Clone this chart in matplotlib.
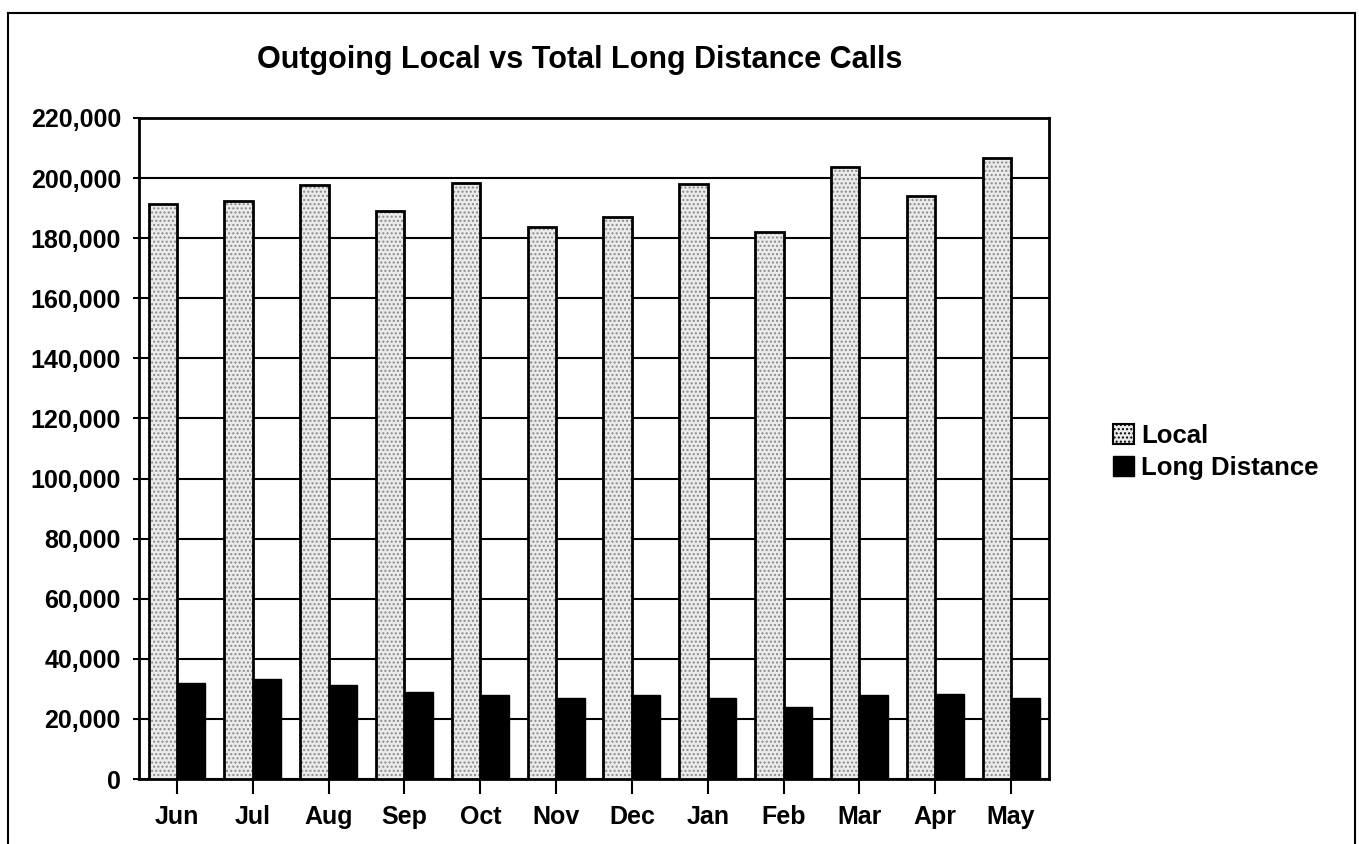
import matplotlib
matplotlib.use("Agg")
import matplotlib.pyplot as plt
from matplotlib.patches import Patch
from matplotlib.lines import Line2D
import numpy as np

months = ["Jun", "Jul", "Aug", "Sep", "Oct", "Nov", "Dec", "Jan", "Feb", "Mar", "Apr", "May"]
local_calls = [191400, 192300, 197800, 188900, 198200, 183600, 187100, 197900, 181900, 203800, 194000, 206600]
long_distance = [31800, 33300, 31200, 28800, 28000, 26900, 27900, 26900, 24100, 27800, 28300, 27000]
yticks = list(range(0, 220001, 20000))
title = "Outgoing Local vs Total Long Distance Calls"
series_names = ["Local", "Long Distance"]

plt.rcParams['font.family'] = ['Liberation Sans', 'DejaVu Sans']
plt.rcParams['font.weight'] = 'bold'

fig = plt.figure(figsize=(13.59, 8.44), dpi=100)
ax = fig.add_axes([0.1023, 0.0770, 0.6696, 0.7832])

x = np.arange(len(months))
w = 0.375
# Local: stippled light-gray bars
ax.bar(x - w / 2, local_calls, width=w, facecolor="#ebebeb", edgecolor="#8a8a8a",
       hatch="....", linewidth=0, zorder=3)
ax.bar(x - w / 2, local_calls, width=w, facecolor="none", edgecolor="black",
       linewidth=2, zorder=4)
ax.bar(x + w / 2, long_distance, width=w, facecolor="black", edgecolor="black",
       linewidth=1, zorder=4)

ax.set_xlim(-0.5, len(months) - 0.5)
ax.set_ylim(0, 220000)
ax.set_yticks(yticks)
ax.set_yticklabels([f"{v:,}" for v in yticks])
ax.set_xticks(x)
ax.set_xticklabels(months)
ax.yaxis.grid(True, color="black", linewidth=1.5, zorder=1)
ax.set_axisbelow(True)
for s in ax.spines.values():
    s.set_linewidth(2)
    s.set_color("black")
ax.tick_params(axis="y", length=4, width=1.5, pad=9, labelsize=18)
ax.tick_params(axis="x", length=11, width=1.5, pad=8, labelsize=18)
for lab in ax.get_xticklabels() + ax.get_yticklabels():
    lab.set_fontweight("bold")

fig.text(0.4268, 0.929, title, ha="center", va="center", fontsize=22, fontweight="bold")

handles = [Patch(facecolor="#ebebeb", edgecolor="black", hatch="....", linewidth=1.5),
           Patch(facecolor="black", edgecolor="black")]
leg = fig.legend(handles, series_names, loc="center left",
                 bbox_to_anchor=(1090 / 1359, 1 - 452 / 844), frameon=False,
                 prop={"size": 18.5, "weight": "bold"}, handlelength=0.8,
                 handleheight=0.8, handletextpad=0.3, labelspacing=0.3)

# outer frame
fig.add_artist(Line2D([8 / 1359, 8 / 1359], [0, 1 - 13 / 844], color="black", lw=1.5,
                      transform=fig.transFigure))
fig.add_artist(Line2D([8 / 1359, 1355 / 1359], [1 - 13 / 844, 1 - 13 / 844], color="black",
                      lw=1.5, transform=fig.transFigure))
fig.add_artist(Line2D([1355 / 1359, 1355 / 1359], [0, 1 - 13 / 844], color="black", lw=1.5,
                      transform=fig.transFigure))

fig.savefig("out.png", dpi=100)
